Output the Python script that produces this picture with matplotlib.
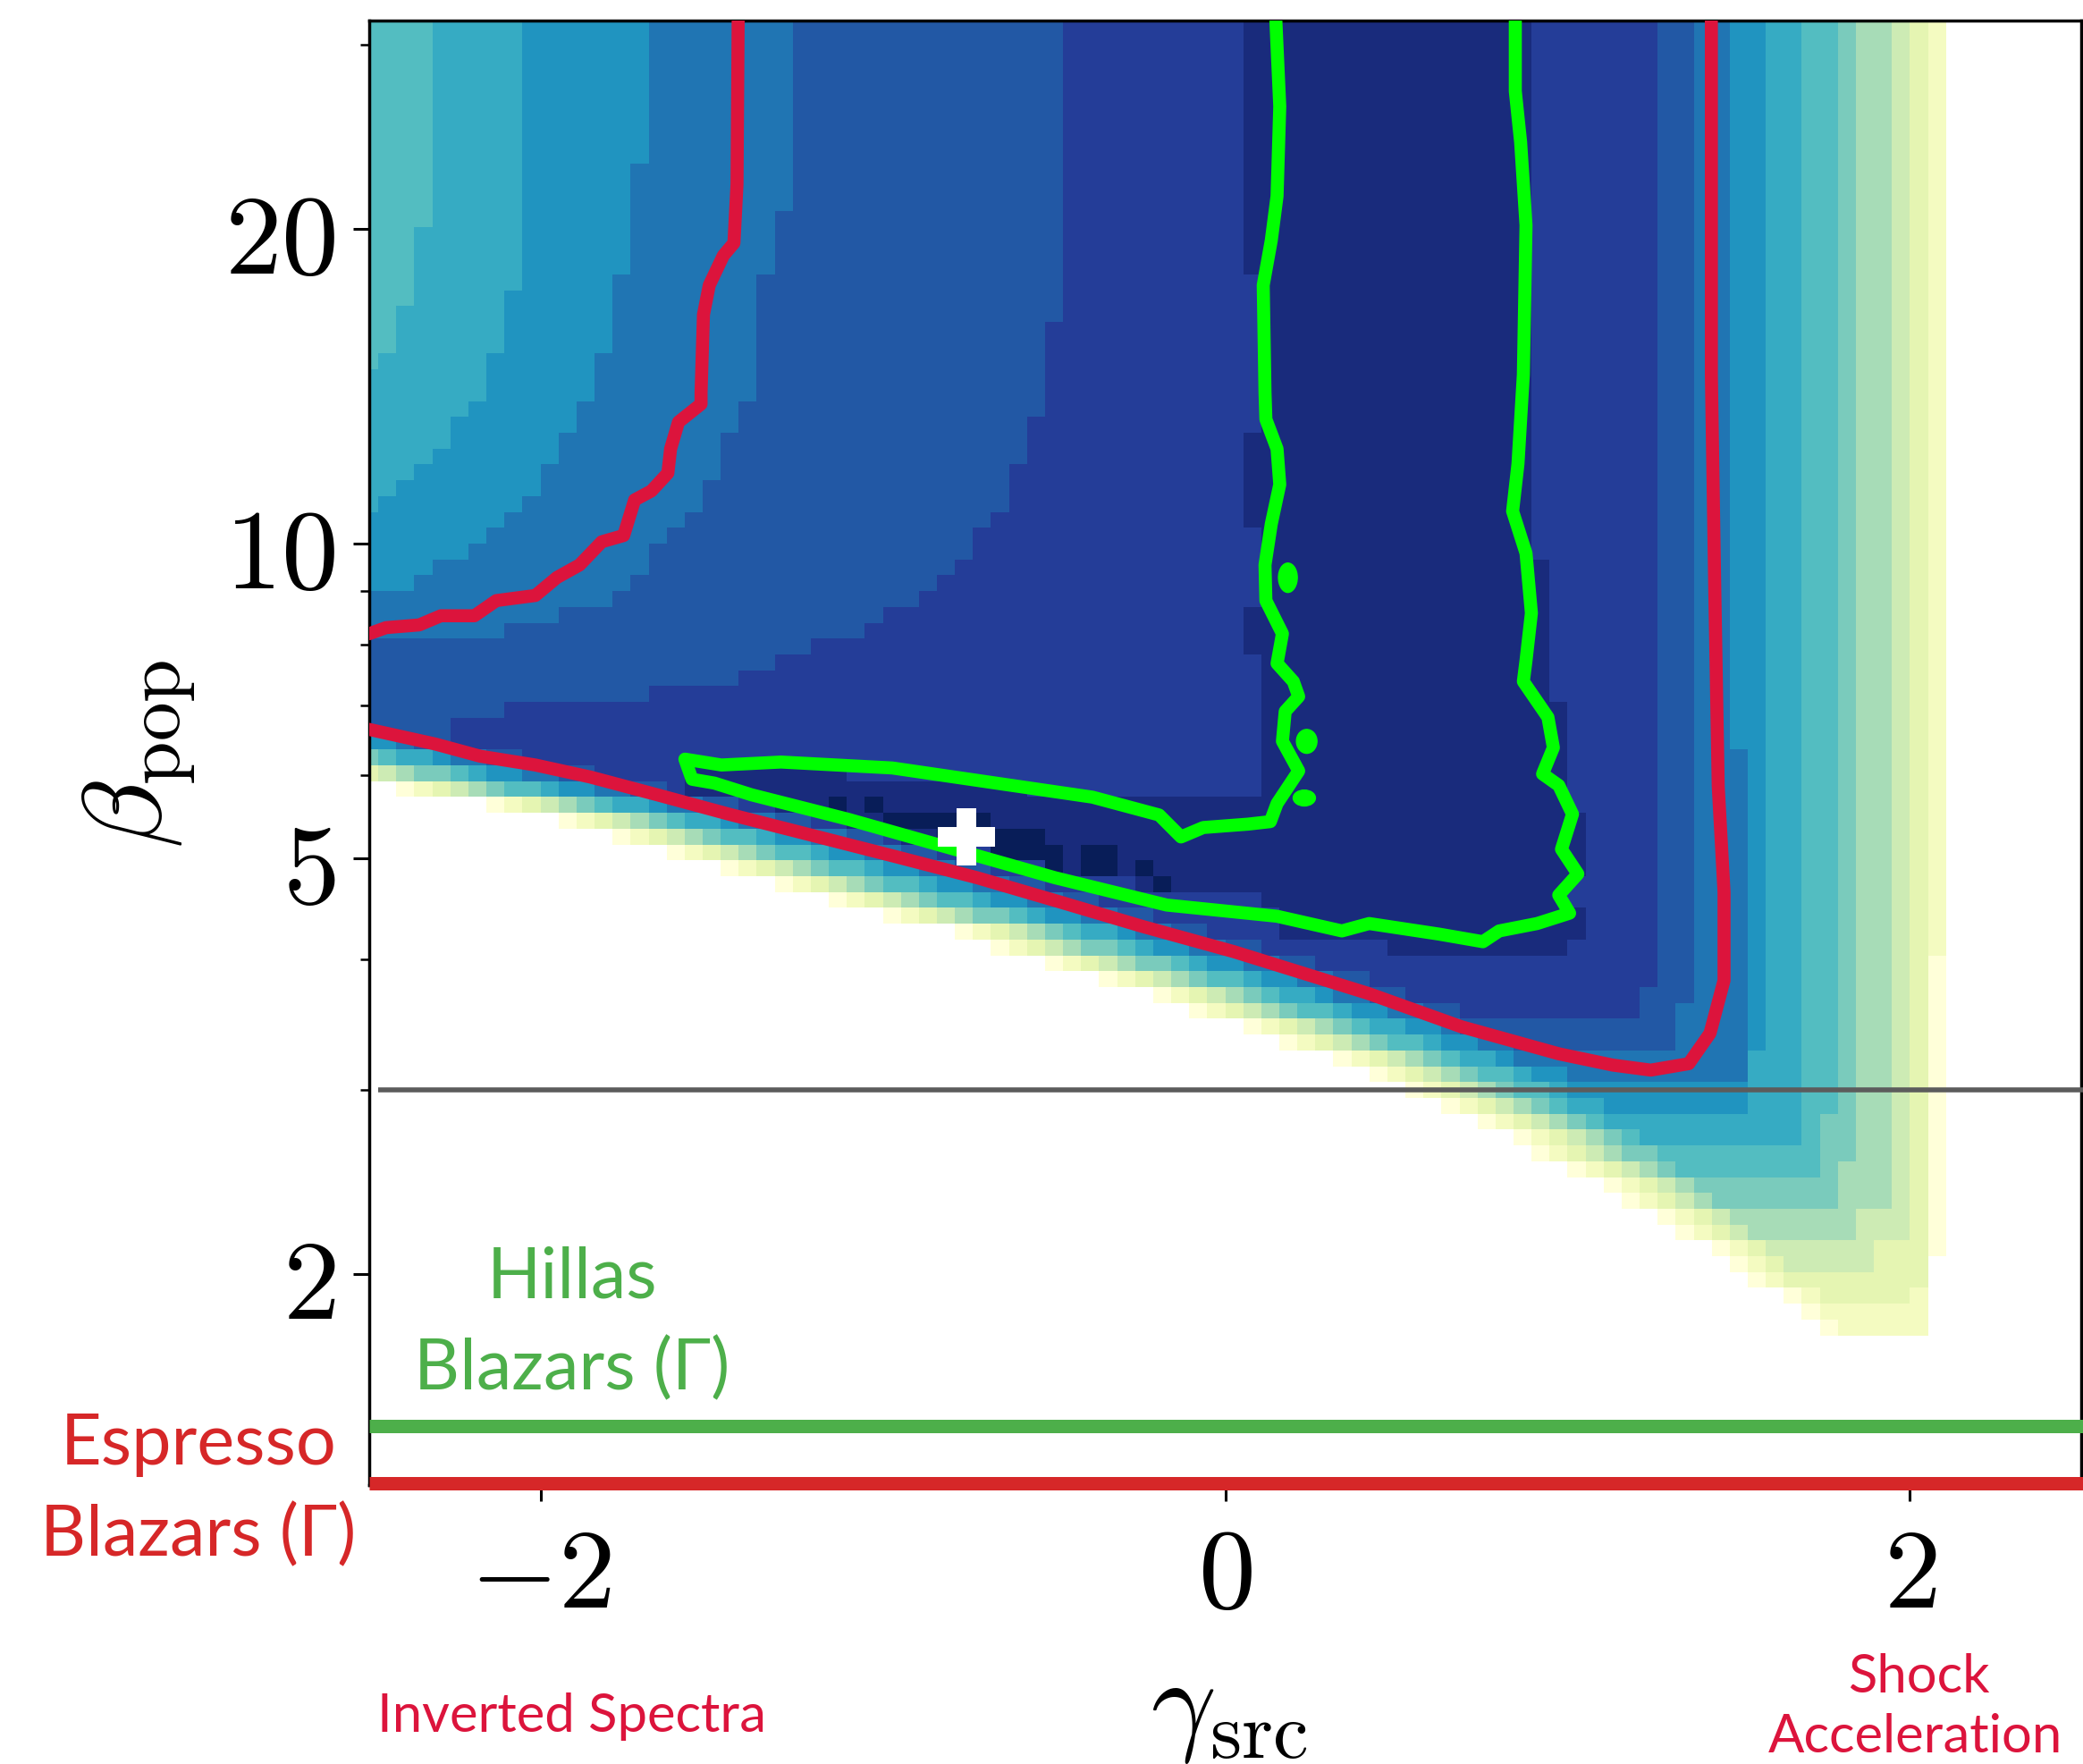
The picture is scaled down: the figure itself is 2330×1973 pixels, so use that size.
import numpy as np
import matplotlib.pyplot as plt
from matplotlib.path import Path
from matplotlib.patches import Ellipse
from matplotlib.ticker import FixedLocator, FixedFormatter, LogLocator, NullFormatter

plt.rcParams['mathtext.fontset'] = 'cm'

# ---------------- grid of the scan ----------------
gamma_centres = np.linspace(-2.5, 2.5, 96)
beta_edges = np.logspace(0, 1.5, 100)

# ---------------- significance map, described by its level boundaries ----------------
# lower-left edge of the filled region (white below it)
edge_gamma = [-3.3, -2.5, -2.315, -2.103, -1.740, -1.255, -0.787, -0.367, 0.012, 0.427, 0.902, 1.221, 1.482, 1.751]
edge_beta = [6.8, 5.92, 5.73, 5.57, 5.20, 4.66, 4.23, 3.84, 3.48, 3.11, 2.63, 2.31, 2.06, 1.75]
# columns between the lower-left edge and the start of levels 1..12
ll_offsets = [1, 2, 3, 4, 5, 6.2, 7.5, 9, 10.7, 12.5, 14.5, 16]

# left-hand boundaries of levels 7..11 (top to bottom)
tl_gamma = [
    [-2.315, -2.315, -2.370, -2.427, -2.52],
    [-2.051, -2.051, -2.106, -2.153, -2.265, -2.312, -2.370, -2.427, -2.474, -2.521],
    [-1.685, -1.685, -1.740, -1.740, -1.790, -1.790, -1.845, -1.845, -1.889, -1.944, -2.003, -2.103,
     -2.153, -2.265, -2.315, -2.435, -2.52],
    [-1.260, -1.260, -1.316, -1.364, -1.370, -1.422, -1.526, -1.578, -1.685, -1.764, -1.816, -1.973,
     -2.129, -2.325, -2.52],
    [-0.47, -0.47, -0.497, -0.521, -0.578, -0.628, -0.675, -0.745, -0.787, -0.863, -0.999, -1.072,
     -1.255, -1.341, -1.471, -1.751, -2.012, -2.208, -2.257, -2.377, -2.52],
]
tl_beta = [
    [34, 21.9, 18.7, 15.3, 14.5],
    [34, 18.67, 16.89, 13.79, 12.92, 12.01, 11.71, 11.30, 10.91, 10.80],
    [34, 24.7, 21.5, 18.75, 17.0, 15.4, 14.5, 13.95, 13.15, 12.27, 11.46, 10.71, 10.18, 9.69, 9.35,
     9.04, 8.87],
    [34, 22.16, 19.89, 16.66, 14.51, 13.02, 11.28, 10.50, 9.67, 9.06, 8.76, 8.48, 8.18, 8.07, 8.01],
    [34, 19.39, 16.66, 13.95, 12.64, 11.46, 10.59, 10.08, 9.41, 9.01, 8.53, 8.17, 7.88, 7.60, 7.36,
     7.11, 7.00, 6.87, 6.60, 6.41, 6.28],
]

# right-hand boundaries of levels 1..11: upper value, value below the break
right_top = [2.111, 2.063, 2.007, 1.952, 1.849, 1.800, 1.690, 1.587, 1.482, 1.378, 1.267]
right_low = [2.063, 2.007, 1.902, 1.849, 1.797, 1.745, 1.638, 1.529, 1.529, 1.322, 1.19]
right_break = [4.06, 1.94, 2.147, 2.296, 2.53, 2.82, 2.62, 3.3, 6.4, 3.64, 3.75]
outer_right = (2.111, 2.063, 2.07)

# lowest beta reached by levels 1..11 near the bottom corner
bottom_beta = [1.74, 1.87, 2.0, 2.15, 2.3, 2.47, 2.63, 2.84, 3.05, 3.27, 3.55]

# level 12 region
navy_gamma = [0.0561, 0.0561, 0.1005, 0.1005, 0.0561, 0.0561, 0.111, 0.111, 0.0561, 0.0561, 0.111, 0.111,
              -0.184, -0.4452, -0.8003, -1.1501, -1.359, -1.5783, -1.6044, -1.4896, -1.1449, -0.8003,
              -0.4974, -0.2154, 0.111, 0.1815, 0.5862, 0.9987, 1.0614, 1.0065, 1.0614, 1.0065, 1.0065,
              0.9569, 0.9569, 0.9021, 0.9021]
navy_beta = [34, 18.2, 18.2, 12.94, 12.94, 10.18, 10.18, 8.64, 8.64, 7.77, 7.77, 5.75,
             5.71, 5.75, 5.96, 6.04, 6.16, 6.16, 5.92, 5.67, 5.40, 5.16,
             4.91, 4.68, 4.56, 4.23, 4.07, 4.07, 4.36, 4.54, 5.18, 5.64, 7.04,
             7.04, 9.54, 9.54, 34]

# level 13 cells
dark_gamma = [-1.1316, -1.0263, -0.9737, -0.9211, -0.8684, -0.8158, -0.7632, -0.7105, -0.8158, -0.7632,
              -0.7105, -0.6579, -0.6053, -0.5526, -0.6579, -0.6053, -0.5526, -0.5, -0.5, -0.3947, -0.3947,
              -0.3421, -0.3421, -0.2368, -0.1842]
dark_beta = [5.62, 5.62, 5.43, 5.43, 5.43, 5.43, 5.43, 5.43, 5.25, 5.25,
             5.25, 5.25, 5.25, 5.25, 5.07, 5.07, 5.07, 5.07, 4.89, 5.07, 4.89,
             5.07, 4.89, 4.89, 4.72]

# ---------------- contours ----------------
red_a_gamma = [-1.422, -1.426, -1.435, -1.466, -1.507, -1.524, -1.531, -1.531, -1.597, -1.620, -1.628,
               -1.676, -1.725, -1.757, -1.821, -1.886, -1.952, -2.015, -2.129, -2.193, -2.291, -2.354,
               -2.451, -2.5, -2.6]
red_a_beta = [34, 22.08, 19.39, 18.86, 17.67, 16.56, 13.95, 13.60, 13.07, 12.32, 11.68,
              11.23, 11.01, 10.18, 10.04, 9.54, 9.28, 8.92, 8.82, 8.53, 8.53, 8.36,
              8.31, 8.20, 8.1]
red_b_gamma = [-2.6, -2.5, -2.307, -2.176, -2.015, -1.855, -1.659, -1.450, -1.208, -0.965, -0.725, -0.482,
               -0.239, 0.025, 0.420, 0.689, 0.974, 1.132, 1.243, 1.354, 1.416, 1.457, 1.457, 1.440, 1.430,
               1.42, 1.42]
red_b_beta = [6.75, 6.64, 6.43, 6.26, 6.14, 5.98, 5.75, 5.51, 5.26, 5.02, 4.79, 4.54,
              4.30, 4.07, 3.71, 3.45, 3.25, 3.17, 3.135, 3.18, 3.40, 3.82, 4.64, 5.86, 9.0,
              14.5, 34]

green_gamma = [0.1436, 0.1593, 0.1514, 0.1345, 0.111, 0.1162, 0.1188, 0.1514, 0.1593, 0.1345, 0.1162,
               0.1188, 0.1671, 0.1514, 0.1990, 0.2146, 0.1752, 0.1671, 0.2146, 0.1514,
               0.1318, 0.0666, -0.0640, -0.1292, -0.1932, -0.3877, -0.6697, -0.9726, -1.2974, -1.4713,
               -1.5783, -1.5574,
               -1.4922, -1.3838, -1.1031, -0.8003, -0.4974, -0.1710, 0.1514, 0.3407, 0.4204, 0.6253,
               0.7527, 0.8003, 0.9110, 1.0060, 0.9742, 1.0300, 0.9822, 1.0144, 0.9742,
               0.9269, 0.9585, 0.9426, 0.8708, 0.8786, 0.8943, 0.8786, 0.8394, 0.8551, 0.8708, 0.8786,
               0.8629, 0.8473, 0.8473]
green_beta = [34, 26.2, 21.5, 19.5, 17.67, 13.95, 13.15, 12.32, 11.39, 10.44, 9.54,
              8.82, 8.20, 7.68, 7.38, 7.14, 6.91, 6.47, 6.06, 5.64,
              5.42, 5.39, 5.35, 5.24, 5.50, 5.72, 5.90, 6.10, 6.18, 6.14,
              6.22, 5.95,
              5.90, 5.75, 5.45, 5.11, 4.79, 4.51, 4.40, 4.26, 4.33, 4.23,
              4.16, 4.26, 4.33, 4.43, 4.61, 4.83, 5.10, 5.51, 5.87,
              6.02, 6.38, 6.82, 7.38, 7.73, 8.58, 9.79, 10.74, 11.92, 14.51, 20.16,
              24.21, 27.09, 34]
blob_gamma = [0.183, 0.238, 0.231]
blob_beta = [9.28, 6.47, 5.71]
blob_w = [0.055, 0.06, 0.065]
blob_h = [0.60, 0.34, 0.20]

best_gamma, best_beta = -0.756, 5.24
beta_line = 3.0
hillas_beta = 1.431
espresso_beta = 1.261

# ---------------- build the level map ----------------
dg = gamma_centres[1] - gamma_centres[0]
gamma_edges = np.append(gamma_centres - dg / 2, gamma_centres[-1] + dg / 2)
beta_centres = np.sqrt(beta_edges[:-1] * beta_edges[1:])
G, B = np.meshgrid(gamma_centres, beta_centres)
LB = np.log10(B)


def along(bvals, gvals, left, right):
    lb = np.log10(np.asarray(bvals, float))[::-1]
    gg = np.asarray(gvals, float)[::-1]
    return np.interp(LB, lb, gg, left=left, right=right)


g_edge = along(edge_beta, edge_gamma, np.inf, -np.inf)
dcol = (G - g_edge) / dg
ll = np.zeros(G.shape, int)
for off in ll_offsets:
    ll += dcol >= off
ll[ll == len(ll_offsets)] = 13

tl = np.full(G.shape, 13)
for k, (gb, bb) in enumerate(zip(tl_gamma, tl_beta), start=7):
    gline = along(bb, gb, -np.inf, gb[0])
    tl = np.where(G < gline, np.minimum(tl, k - 1), tl)

rr = np.zeros(G.shape, int)
for top, low, brk in zip(right_top, right_low, right_break):
    rr += G < np.where(B < brk, low, top)
rr[rr == len(right_top)] = 13

bot = np.zeros(G.shape, int)
for bb in bottom_beta:
    bot += B > bb
bot[bot == len(bottom_beta)] = 13

inner = np.full(G.shape, 11)
navy = Path(np.column_stack([navy_gamma, np.log10(navy_beta)]))
inside_navy = navy.contains_points(np.column_stack([G.ravel(), LB.ravel()])).reshape(G.shape)
inner[inside_navy] = 12
for g, b in zip(dark_gamma, dark_beta):
    j = np.argmin(np.abs(gamma_centres - g))
    i = np.argmin(np.abs(np.log10(beta_centres) - np.log10(b)))
    inner[i, j] = 13

level = np.minimum.reduce([ll, tl, rr, bot, inner])
filled = (dcol >= 0) & (G < np.where(B < outer_right[2], outer_right[1], outer_right[0]))
Z = np.ma.masked_where(~filled, level)

# ---------------- figure ----------------
fig = plt.figure(figsize=(23.3, 19.74), dpi=100)
ax = fig.add_axes([0.1773, 0.158, 0.8218, 0.8296])

ax.pcolormesh(gamma_edges, beta_edges, Z, cmap='YlGnBu', vmin=0, vmax=13,
              shading='flat', antialiased=False, linewidth=0, zorder=1)

ax.plot(red_a_gamma, red_a_beta, color='#dc143c', lw=10.5, zorder=3, solid_joinstyle='round')
ax.plot(red_b_gamma, red_b_beta, color='#dc143c', lw=10.5, zorder=3, solid_joinstyle='round')
ax.plot(green_gamma, green_beta, color='#00ff00', lw=10.5, zorder=4, solid_joinstyle='round')
for g, b, w, h in zip(blob_gamma, blob_beta, blob_w, blob_h):
    ax.add_patch(Ellipse((g, b), w, h, color='#00ff00', zorder=4))

ax.plot(best_gamma, best_beta, marker='P', ms=46, color='white', mew=0, zorder=5)

ax.axhline(beta_line, xmin=0.005, xmax=1.002, color='#5c5c5c', lw=4, clip_on=False, zorder=6,
           solid_capstyle='butt')
ax.axhline(hillas_beta, xmin=0, xmax=1.002, color='#4daf4a', lw=10.8, clip_on=False, zorder=7,
           solid_capstyle='butt')
ax.axhline(espresso_beta, xmin=0, xmax=1.002, color='#d62728', lw=10.8, clip_on=False, zorder=7,
           solid_capstyle='butt')

ax.set_xlim(-2.5, 2.5)
ax.set_yscale('log')
ax.set_ylim(1.2565, 10 ** 1.5)

ax.xaxis.set_major_locator(FixedLocator([-2, 0, 2]))
ax.xaxis.set_major_formatter(FixedFormatter([r'$-2$', r'$0$', r'$2$']))
ax.xaxis.set_minor_locator(FixedLocator([]))
ax.yaxis.set_major_locator(FixedLocator([2, 5, 10, 20]))
ax.yaxis.set_major_formatter(FixedFormatter([r'$2$', r'$5$', r'$10$', r'$20$']))
ax.yaxis.set_minor_locator(LogLocator(base=10, subs=np.arange(2, 10)))
ax.yaxis.set_minor_formatter(NullFormatter())
ax.tick_params(which='major', length=13, width=2.2, labelsize=92, pad=14)
ax.tick_params(which='minor', length=7, width=1.8)
for s in ax.spines.values():
    s.set_linewidth(2.5)

fig.text(156 / 2330, 1 - 843 / 1974, r'$\beta_{\rm pop}$', rotation=90, ha='center', va='center', fontsize=90)
fig.text(1375 / 2330, 1 - 1913 / 1974, r'$\gamma_{\rm src}$', ha='center', va='center', fontsize=92)

label_font = dict(family='Lato', ha='center', va='baseline')
fig.text(640 / 2330, 1 - 1452 / 1974, 'Hillas', color='#4daf4a', fontsize=57, **label_font)
fig.text(640 / 2330, 1 - 1554 / 1974, 'Blazars (Γ)', color='#4daf4a', fontsize=57, **label_font)
fig.text(222 / 2330, 1 - 1638 / 1974, 'Espresso', color='#d62728', fontsize=57, **label_font)
fig.text(222 / 2330, 1 - 1740 / 1974, 'Blazars (Γ)', color='#d62728', fontsize=57, **label_font)
fig.text(640 / 2330, 1 - 1937 / 1974, 'Inverted Spectra', color='#dc143c', fontsize=43, **label_font)
fig.text(2146 / 2330, 1 - 1893 / 1974, 'Shock', color='#dc143c', fontsize=43, **label_font)
fig.text(2142 / 2330, 1 - 1960 / 1974, 'Acceleration', color='#dc143c', fontsize=43, **label_font)

fig.savefig('out.png', dpi=100)
